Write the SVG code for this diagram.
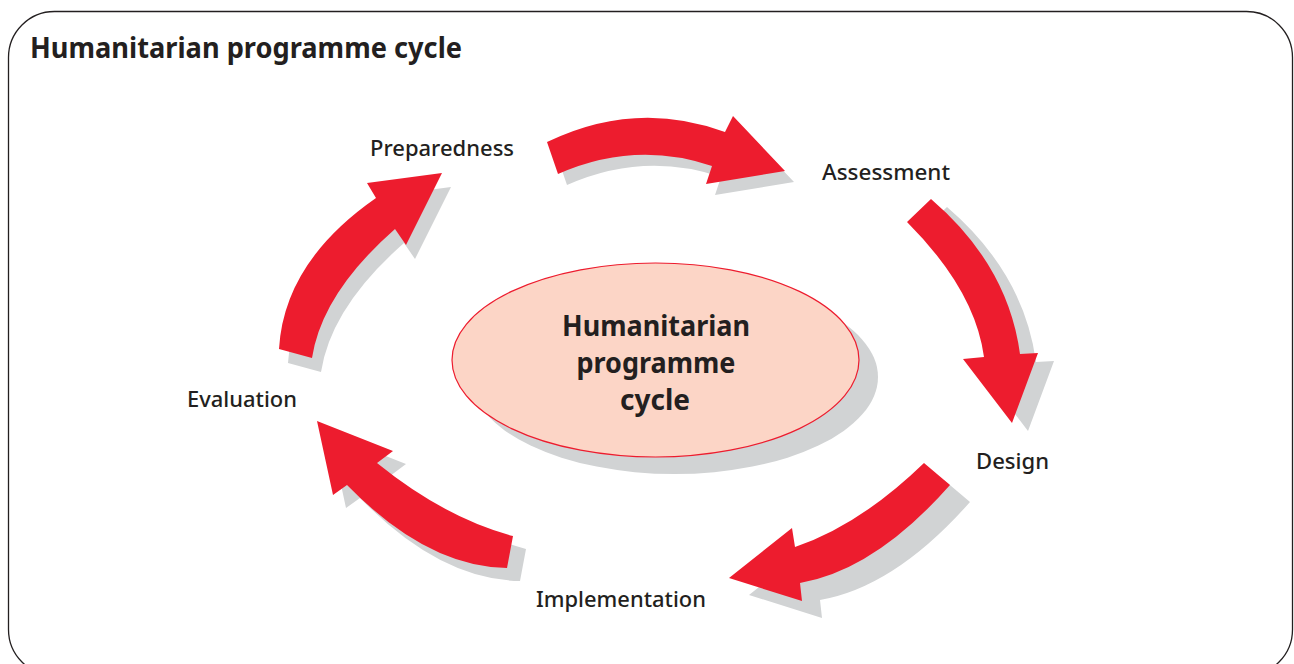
<svg xmlns="http://www.w3.org/2000/svg" xmlns:xlink="http://www.w3.org/1999/xlink" width="1294" height="664" viewBox="0 0 1294 664">
<style>
  .arrow { fill: #ed1c2e; }
  .shadow { fill: #d1d3d4; }
  .label { font-family: "Noto Sans", "Liberation Sans", sans-serif; font-weight: 500; font-size: 21px; fill: #231f20; }
  .title { font-family: "Noto Sans", "Liberation Sans", sans-serif; font-weight: 700; font-size: 28px; fill: #231f20; }
  .center { font-family: "Noto Sans", "Liberation Sans", sans-serif; font-weight: 700; font-size: 28px; fill: #231f20; text-anchor: middle; }
</style>
<defs>
  <path id="a1" d="M547,142 Q636,99 725,132 L733,116 L785,171 L706,184 L712,166 Q635,140 558,174 Z"/>
  <path id="a2" d="M931,199 Q1008,265 1020,354 L1038,353 L1012,423 L963,359 L984,357 Q975,290 907,222 Z"/>
  <path id="a3" d="M924,463 Q860,525 795,547 L792,528 L729,578 L802,601 L800,583 Q875,570 950,485 Z"/>
  <path id="a4" d="M513,536 Q445,518 377,463 L393,451 L317,421 L333,495 L347,485 Q427,567 507,568 Z"/>
  <path id="a5" d="M279,349 Q284,262 376,198 L367,183 L442,173 L406,245 L395,229 Q322,293 312,358 Z"/>
</defs>
<rect width="1294" height="664" fill="#ffffff"/>
<rect id="frame" x="8.5" y="11.5" width="1284" height="664" rx="46" ry="46" fill="none" stroke="#231f20" stroke-width="1.3"/>
<text class="title" x="30" y="58" textLength="432" lengthAdjust="spacingAndGlyphs">Humanitarian programme cycle</text>

<g id="connectors">
  <use xlink:href="#a1" class="shadow" transform="translate(9,11)"/>
  <use xlink:href="#a2" class="shadow" transform="translate(16,8)"/>
  <use xlink:href="#a3" class="shadow" transform="translate(20,17)"/>
  <use xlink:href="#a4" class="shadow" transform="translate(13,13)"/>
  <use xlink:href="#a5" class="shadow" transform="translate(9,14)"/>
  <use xlink:href="#a1" class="arrow"/>
  <use xlink:href="#a2" class="arrow"/>
  <use xlink:href="#a3" class="arrow"/>
  <use xlink:href="#a4" class="arrow"/>
  <use xlink:href="#a5" class="arrow"/>
</g>

<g id="center-node">
  <ellipse cx="674.5" cy="377" rx="203.5" ry="97" fill="#d1d3d4"/>
  <ellipse cx="655.5" cy="360" rx="203.5" ry="97" fill="#fcd5c6" stroke="#ed1c2e" stroke-width="1.2"/>
  <text class="center" x="656" y="336" textLength="188" lengthAdjust="spacingAndGlyphs">Humanitarian</text>
  <text class="center" x="656" y="373" textLength="159" lengthAdjust="spacingAndGlyphs">programme</text>
  <text class="center" x="655" y="410" textLength="70" lengthAdjust="spacingAndGlyphs">cycle</text>
</g>

<g id="node-preparedness"><text class="label" x="370" y="156" textLength="144" lengthAdjust="spacingAndGlyphs">Preparedness</text></g>
<g id="node-assessment"><text class="label" x="822" y="180" textLength="128" lengthAdjust="spacingAndGlyphs">Assessment</text></g>
<g id="node-design"><text class="label" x="976" y="469" textLength="73" lengthAdjust="spacingAndGlyphs">Design</text></g>
<g id="node-implementation"><text class="label" x="536" y="607" textLength="170" lengthAdjust="spacingAndGlyphs">Implementation</text></g>
<g id="node-evaluation"><text class="label" x="187" y="407" textLength="110" lengthAdjust="spacingAndGlyphs">Evaluation</text></g>
</svg>
